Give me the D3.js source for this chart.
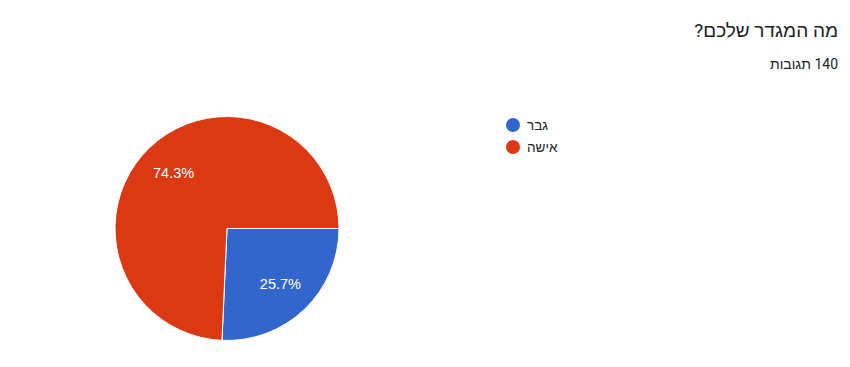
<!DOCTYPE html>
<html><head><meta charset="utf-8">
<script src="https://cdn.jsdelivr.net/npm/d3@7"></script>
<style>body{margin:0;background:#fff}svg{display:block}</style>
</head><body>
<svg id="c" width="850" height="367"></svg>
<script>
const title = "מה המגדר שלכם?";
const subtitle = "140 תגובות";
const categories = ["גבר", "אישה"];
const values = [36, 104];
const colors = ["#3366cc", "#dc3912"];

const svg = d3.select("#c");
const W = 850, H = 367;
svg.append("rect").attr("width", W).attr("height", H).attr("fill", "#fff");

svg.append("text").attr("x", 838).attr("y", 37).attr("text-anchor", "start")
  .attr("font-family", "Roboto, Arial, sans-serif").attr("font-size", 19).attr("fill", "#202124")
  .attr("direction", "rtl").text(title);
svg.append("text").attr("x", 838).attr("y", 69).attr("text-anchor", "start")
  .attr("font-family", "Roboto, Arial, sans-serif").attr("font-size", 14).attr("fill", "#202124")
  .attr("direction", "rtl").text(subtitle);

const cx = 227, cy = 228.5, r = 112;
const total = d3.sum(values);
const pie = d3.pie().sort(null).startAngle(Math.PI / 2).endAngle(Math.PI / 2 + 2 * Math.PI);
const arcs = pie(values);
const arc = d3.arc().innerRadius(0).outerRadius(r);
const labelArc = d3.arc().innerRadius(r * 0.69).outerRadius(r * 0.69);
const g = svg.append("g").attr("transform", `translate(${cx},${cy})`);
g.selectAll("path").data(arcs).join("path")
  .attr("d", arc).attr("fill", (d, i) => colors[i])
  .attr("stroke", "#fff").attr("stroke-width", 1);
g.selectAll("text").data(arcs).join("text")
  .attr("transform", d => `translate(${labelArc.centroid(d)})`)
  .attr("text-anchor", "middle").attr("dy", "0.35em")
  .attr("font-family", "Arial, 'Liberation Sans', sans-serif").attr("font-size", 14.5).attr("fill", "#fff")
  .text(d => (d.value / total * 100).toFixed(1) + "%");

const leg = svg.append("g");
categories.forEach((c, i) => {
  const y = 125 + i * 22;
  leg.append("circle").attr("cx", 513).attr("cy", y).attr("r", 7).attr("fill", colors[i]);
  leg.append("text").attr("x", 527).attr("y", y).attr("dy", "0.35em")
    .attr("font-family", "Arial, 'Liberation Sans', sans-serif").attr("font-size", 13.5).attr("fill", "#222")
    .text(c);
});
</script>
</body></html>
